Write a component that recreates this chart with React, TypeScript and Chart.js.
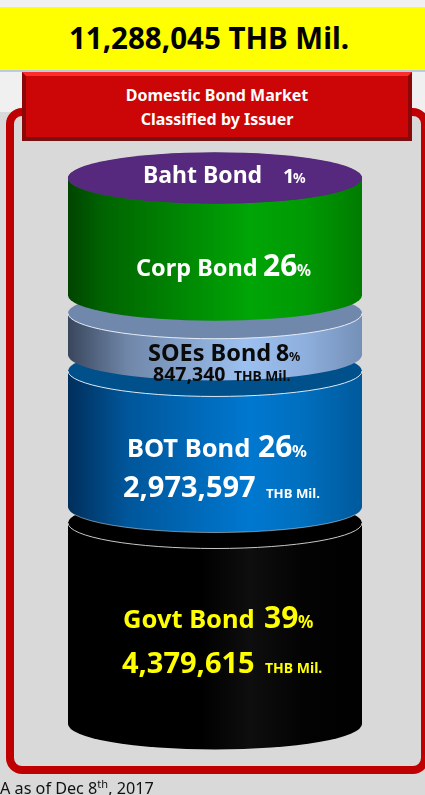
import React, { useEffect, useRef } from "react";
import { Chart, registerables } from "chart.js";

Chart.register(...registerables);

// ---- data ----
const categories = ["Baht Bond", "Corp Bond", "SOEs Bond", "BOT Bond", "Govt Bond"];
const sharePct = ["1", "26", "8", "26", "39"];
const amountsText = ["", "", "847,340", "2,973,597", "4,379,615"];
// drawn span of each cylinder section, on a percent-like axis
const spanLow = [105.9, 83.2, 71.6, 42.1, 0];
const spanHigh = [106.0, 105.9, 79.7, 68.5, 39];
const totalText = "11,288,045 THB Mil.";
const titleLines = ["Domestic Bond Market", "Classified by Issuer"];
const unitText = "THB Mil.";

// ---- styles ----
const FONT = '"Noto Sans"';
const RY = 25.5;
const bodyStops: [number, string][][] = [
  [[0, "#56287e"], [1, "#56287e"]],
  [[0, "#004400"], [0.12, "#006400"], [0.62, "#00a506"], [0.8, "#009a04"], [1, "#007c00"]],
  [[0, "#39465c"], [0.2, "#6f86a8"], [0.6, "#9cc0f0"], [0.8, "#8fb0de"], [1, "#7490b8"]],
  [[0, "#002f5c"], [0.2, "#00569a"], [0.62, "#0078d0"], [0.8, "#006fbe"], [1, "#00599c"]],
  [[0, "#000000"], [0.45, "#000000"], [0.62, "#0e0e0e"], [0.8, "#030303"], [1, "#000000"]],
];
const capColors = ["#56287e", "#008000", "#6f88ac", "#00508c", "#000000"];
const capEdge = [null, null, "#e6edf6", "#dfe8f2", "#c8c8c8"];
const baseEdge = [null, null, null, "rgba(255,255,255,0.45)", null];

type Run = { t: string; x: number; y: number; s: number };
const labelColors = ["#ffffff", "#ffffff", "#0a0a0a", "#ffffff", "#ffff00"];
const labelRuns: Run[][] = [
  [
    { t: categories[0], x: 143, y: 183, s: 23 },
    { t: sharePct[0], x: 283, y: 183, s: 20 },
    { t: "%", x: 293, y: 183, s: 14 },
  ],
  [
    { t: categories[1], x: 136, y: 276, s: 23.5 },
    { t: sharePct[1], x: 263, y: 276, s: 30 },
    { t: "%", x: 297, y: 276, s: 15.5 },
  ],
  [
    { t: categories[2], x: 148, y: 361, s: 23.5 },
    { t: sharePct[2], x: 276, y: 361, s: 23 },
    { t: "%", x: 289, y: 361, s: 12.5 },
    { t: amountsText[2], x: 153, y: 381, s: 19.5 },
    { t: unitText, x: 234, y: 381, s: 13.8 },
  ],
  [
    { t: categories[3], x: 127, y: 457, s: 25.5 },
    { t: sharePct[3], x: 258, y: 457, s: 30 },
    { t: "%", x: 292, y: 457, s: 16.5 },
    { t: amountsText[3], x: 123, y: 497, s: 29 },
    { t: unitText, x: 266, y: 498, s: 13.2 },
  ],
  [
    { t: categories[4], x: 123, y: 628, s: 25.5 },
    { t: sharePct[4], x: 264, y: 628, s: 30 },
    { t: "%", x: 298, y: 628, s: 17 },
    { t: amountsText[4], x: 122, y: 673, s: 29 },
    { t: unitText, x: 265, y: 673, s: 14 },
  ],
];

function bodyGradient(chart: any, i: number) {
  const area = chart.chartArea;
  if (!area) return capColors[i];
  const g = chart.ctx.createLinearGradient(area.left, 0, area.right, 0);
  bodyStops[i].forEach(([p, c]) => g.addColorStop(p, c));
  return g;
}

const cylinderPlugin = {
  id: "cylinder",
  beforeDatasetDraw(chart: any, args: any) {
    const i = args.index;
    const bar = args.meta.data[0];
    const low = Math.max(bar.y, bar.base);
    const ctx = chart.ctx;
    ctx.save();
    ctx.fillStyle = bodyGradient(chart, i);
    ctx.beginPath();
    ctx.ellipse(bar.x, low, bar.width / 2, RY, 0, 0, Math.PI);
    ctx.lineTo(bar.x - bar.width / 2, low - 2);
    ctx.lineTo(bar.x + bar.width / 2, low - 2);
    ctx.closePath();
    ctx.fill();
    if (baseEdge[i]) {
      ctx.strokeStyle = baseEdge[i];
      ctx.lineWidth = 1;
      ctx.beginPath();
      ctx.ellipse(bar.x, low, bar.width / 2, RY, 0, Math.PI * 0.1, Math.PI * 0.9);
      ctx.stroke();
    }
    ctx.restore();
  },
  afterDatasetDraw(chart: any, args: any) {
    const i = args.index;
    const bar = args.meta.data[0];
    const top = Math.min(bar.y, bar.base);
    const ctx = chart.ctx;
    ctx.save();
    ctx.fillStyle = capColors[i];
    ctx.beginPath();
    ctx.ellipse(bar.x, top, bar.width / 2, RY, 0, 0, Math.PI * 2);
    ctx.fill();
    if (capEdge[i]) {
      ctx.strokeStyle = capEdge[i];
      ctx.lineWidth = 1;
      ctx.beginPath();
      ctx.ellipse(bar.x, top, bar.width / 2, RY, 0, 0, Math.PI);
      ctx.stroke();
    }
    ctx.restore();
  },
  afterDraw(chart: any) {
    const ctx = chart.ctx;
    ctx.save();
    ctx.textBaseline = "alphabetic";
    ctx.textAlign = "left";
    labelRuns.forEach((runs, i) => {
      ctx.fillStyle = labelColors[i];
      runs.forEach((r) => {
        ctx.font = `700 ${r.s}px ${FONT}`;
        ctx.fillText(r.t, r.x, r.y);
      });
    });
    ctx.restore();
  },
};

export default function App() {
  const ref = useRef<HTMLCanvasElement>(null);
  useEffect(() => {
    const chart = new Chart(ref.current as HTMLCanvasElement, {
      type: "bar",
      data: {
        labels: ["Domestic Bond Market"],
        datasets: categories.map((name, i) => ({
          label: name,
          data: [[spanLow[i], spanHigh[i]]] as any,
          backgroundColor: (c: any) => bodyGradient(c.chart, i),
          borderWidth: 0,
          grouped: false,
          barPercentage: 1,
          categoryPercentage: 1,
        })),
      },
      options: {
        responsive: false,
        animation: false,
        devicePixelRatio: 1,
        layout: { padding: { left: 68, right: 63, top: 172.54, bottom: 71 } },
        plugins: { legend: { display: false }, title: { display: false }, tooltip: { enabled: false } },
        scales: {
          x: { display: false },
          y: { display: false, min: 0, max: 107 },
        },
      },
      plugins: [cylinderPlugin],
    } as any);
    return () => chart.destroy();
  }, []);

  const abs = (o: React.CSSProperties): React.CSSProperties => ({ position: "absolute", boxSizing: "border-box", ...o });
  return (
    <div style={abs({ left: 0, top: 0, width: 425, height: 795, overflow: "hidden", background: "#f0f0f0", fontFamily: FONT })}>
      <div style={abs({ left: 0, top: 112, width: 425, height: 683, background: "#d9d9d9" })} />
      <div style={abs({ left: 0, top: 7, width: 425, height: 63, paddingRight: 7, background: "#ffff00", color: "#000", fontWeight: 700, fontSize: 29.5, lineHeight: "61px", textAlign: "center" })}>
        {totalText}
      </div>
      <div style={abs({ left: 0, top: 70, width: 425, height: 2, background: "#b8cce4" })} />
      <div style={abs({ left: 6, top: 108, width: 423, height: 666, border: "8px solid #c00000", borderRadius: 16 })} />
      <div
        style={abs({
          left: 22, top: 72, width: 390, height: 69, background: "#cc0606", color: "#fff",
          borderStyle: "solid", borderWidth: 4, borderColor: "#ff2c2c #8c0808 #7a0f0f #8c0808",
          fontWeight: 700, fontSize: 16, lineHeight: "24px", textAlign: "center", paddingTop: 7,
        })}
      >
        {titleLines.map((l) => (
          <div key={l}>{l}</div>
        ))}
      </div>
      <canvas ref={ref} width={425} height={795} style={abs({ left: 0, top: 0, width: 425, height: 795 })} />
      <div style={abs({ left: 0, top: 776, fontSize: 16.2, lineHeight: "24px", color: "#111", whiteSpace: "nowrap" })}>
        A as of Dec 8<sup style={{ fontSize: 11, lineHeight: 0 }}>th</sup>, 2017
      </div>
    </div>
  );
}
